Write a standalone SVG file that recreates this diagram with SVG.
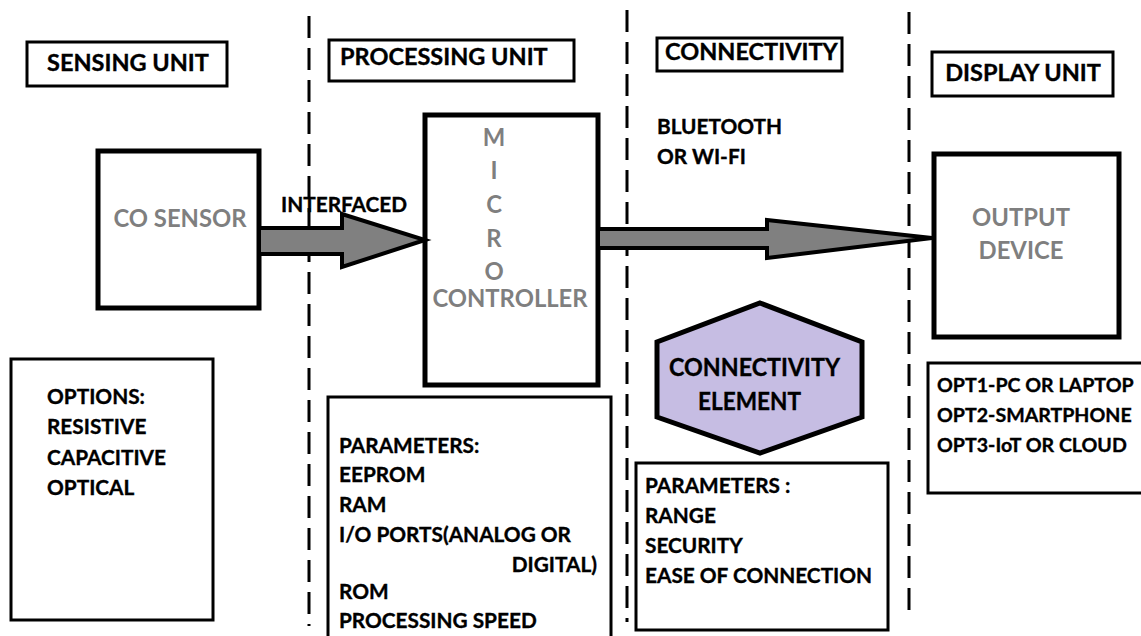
<svg xmlns="http://www.w3.org/2000/svg" width="1141" height="636" viewBox="0 0 1141 636">
<style>
.t{font-family:Lato,"Liberation Sans",sans-serif;font-weight:bold;font-size:20.8px;fill:#000;stroke:#000;stroke-width:0.35}
.h{font-family:Lato,"Liberation Sans",sans-serif;font-weight:bold;font-size:23.5px;fill:#000;stroke:#000;stroke-width:0.35}
.g{font-family:Lato,"Liberation Sans",sans-serif;font-weight:bold;font-size:23.8px;fill:#7f7f7f}
.o{font-size:19.6px}
.lbl{fill:#fff;stroke:#000;stroke-width:3}
.box{fill:#fff;stroke:#000;stroke-width:5}
.thin{fill:#fff;stroke:#000;stroke-width:3}
.dash{stroke:#000;stroke-width:3;stroke-dasharray:22 10;fill:none}
.arrow{fill:#808080;stroke:#000;stroke-width:4;stroke-linejoin:miter}
</style>
<rect width="1141" height="636" fill="#fff"/>
<g id="dividers">
<line class="dash" x1="309" y1="16" x2="309" y2="626"/>
<line class="dash" x1="627" y1="10" x2="627" y2="622"/>
<line class="dash" x1="909" y1="12" x2="909" y2="612"/>
</g>
<g id="label-sensing"><rect class="lbl" x="27" y="42" width="200" height="44"/><text class="h" x="128" y="71" text-anchor="middle">SENSING UNIT</text></g>
<g id="label-processing"><rect class="lbl" x="329" y="40" width="245" height="41"/><text class="h" x="340" y="65">PROCESSING UNIT</text></g>
<g id="label-connectivity"><rect class="lbl" x="657" y="38" width="185" height="33"/><text class="h" x="665" y="60">CONNECTIVITY</text></g>
<g id="label-display"><rect class="lbl" x="932" y="52" width="181" height="44"/><text class="h" x="1023" y="81" text-anchor="middle">DISPLAY UNIT</text></g>
<g id="co-sensor"><rect class="box" x="98" y="151" width="161" height="157"/><text class="g" x="180" y="227" text-anchor="middle">CO SENSOR</text></g>
<g id="microcontroller"><rect class="box" x="425" y="115" width="173" height="270"/>
<g class="g" text-anchor="middle"><text x="494" y="146">M</text><text x="494" y="179">I</text><text x="494" y="213">C</text><text x="494" y="247">R</text><text x="494" y="280">O</text><text x="510" y="307">CONTROLLER</text></g></g>
<g id="output-device"><rect class="box" x="934" y="154" width="185" height="183"/><text class="g" x="1021" y="226" text-anchor="middle">OUTPUT</text><text class="g" x="1021" y="259" text-anchor="middle">DEVICE</text></g>
<g id="connectivity-element"><polygon points="760,303 862,342 862,417 760,453 657,417 657,342" fill="#c6bde3" stroke="#000" stroke-width="5"/><text class="t" x="669" y="376" textLength="171" lengthAdjust="spacingAndGlyphs" style="font-size:24px">CONNECTIVITY</text><text class="t" x="698" y="410" textLength="103" lengthAdjust="spacingAndGlyphs" style="font-size:24px">ELEMENT</text></g>
<g id="sensor-options"><rect class="thin" x="11" y="359" width="202" height="261"/>
<text class="t" x="47" y="404">OPTIONS:</text><text class="t" x="47" y="434">RESISTIVE</text><text class="t" x="47" y="465">CAPACITIVE</text><text class="t" x="47" y="495">OPTICAL</text></g>
<g id="processing-params"><rect class="thin" x="328" y="397" width="283" height="245"/>
<text class="t" x="339" y="453">PARAMETERS:</text><text class="t" x="339" y="482">EEPROM</text><text class="t" x="339" y="512">RAM</text><text class="t" x="339" y="542">I/O PORTS(ANALOG OR</text><text class="t" x="597" y="572" text-anchor="end">DIGITAL)</text><text class="t" x="339" y="599">ROM</text><text class="t" x="339" y="628">PROCESSING SPEED</text></g>
<g id="connectivity-options"><text class="t" x="657" y="134">BLUETOOTH</text><text class="t" x="657" y="164">OR WI-FI</text></g>
<g id="connectivity-params"><rect class="thin" x="636" y="463" width="252" height="167"/>
<text class="t" x="645" y="493">PARAMETERS :</text><text class="t" x="645" y="523">RANGE</text><text class="t" x="645" y="553">SECURITY</text><text class="t" x="645" y="583">EASE OF CONNECTION</text></g>
<g id="display-options"><rect class="thin" x="928" y="363" width="220" height="130"/>
<text class="t o" x="937" y="392">OPT1-PC OR LAPTOP</text><text class="t o" x="937" y="422">OPT2-SMARTPHONE</text><text class="t o" x="937" y="452">OPT3-IoT OR CLOUD</text></g>
<g id="connectors">
<polygon class="arrow" points="259,228 342,228 342,214 425,240 342,267 342,254 259,254"/>
<polygon class="arrow" points="598,229 767,229 767,220 932,238 767,258 767,248 598,248"/>
<text class="t" x="281" y="212">INTERFACED</text>
</g>
</svg>
